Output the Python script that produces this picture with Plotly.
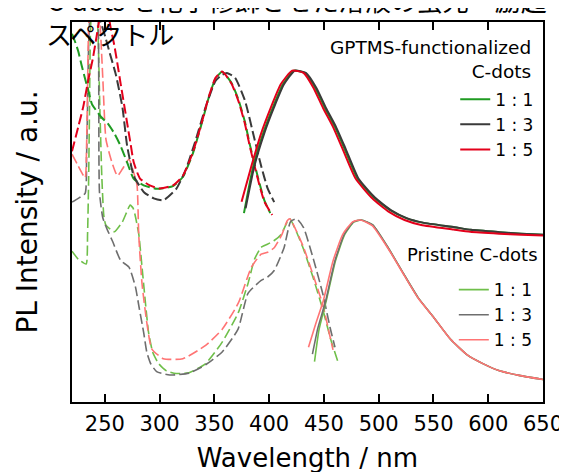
import plotly.graph_objects as go

# ---------------- data (wavelength in nm, intensity in a.u.) ----------------
ratios = ["1 : 1", "1 : 3", "1 : 5"]

# GPTMS-functionalized C-dots : emission (solid)
g_em_11_wl = [377.0, 385.5, 394.5, 403.5, 412.5, 422.5, 432.5, 442.0, 451.0, 460.0, 469.0, 480.5, 495.5, 510.5, 525.0, 540.0, 569.0, 584.0, 610, 630, 650]
g_em_11_y = [0.497, 0.621, 0.707, 0.776, 0.836, 0.872, 0.866, 0.827, 0.773, 0.724, 0.665, 0.588, 0.538, 0.505, 0.484, 0.472, 0.460, 0.453, 0.447, 0.443, 0.440]
g_em_13_wl = [378.5, 386.5, 395.5, 404.5, 413.5, 423.5, 433.5, 443.0, 452.0, 461.0, 470.0, 481.5, 496.5, 511.0, 525.5, 540.5, 569.5, 584.5, 610, 630, 650]
g_em_13_y = [0.510, 0.621, 0.707, 0.776, 0.836, 0.872, 0.866, 0.827, 0.773, 0.724, 0.665, 0.588, 0.538, 0.505, 0.484, 0.472, 0.460, 0.453, 0.447, 0.443, 0.440]
g_em_15_wl = [374.8, 383.8, 392.7, 401.7, 410.6, 421.0, 431.4, 440.4, 449.3, 458.3, 467.2, 478.9, 494.1, 509.0, 523.6, 538.8, 568.3, 583.5, 610, 630, 650]
g_em_15_y = [0.527, 0.621, 0.707, 0.776, 0.836, 0.872, 0.866, 0.827, 0.773, 0.724, 0.665, 0.588, 0.536, 0.501, 0.479, 0.466, 0.454, 0.448, 0.443, 0.440, 0.438]

# GPTMS-functionalized C-dots : excitation (dashed)
g_ex_11_wl = [220, 222.8, 225.7, 228.7, 231.7, 234.7, 238.2, 246.6, 252.6, 258.6, 264.5, 270.4, 276.4, 285.4, 297.3, 312.2, 321.2, 330.1, 339.1, 344.7, 351.0, 357.0, 359.9, 365.9, 371.8, 377.8, 382.3, 386.7, 391.2, 395.7, 401.0]
g_ex_11_y = [0.969, 0.948, 0.923, 0.887, 0.853, 0.822, 0.784, 0.750, 0.733, 0.707, 0.673, 0.630, 0.587, 0.570, 0.561, 0.568, 0.592, 0.652, 0.740, 0.800, 0.851, 0.869, 0.862, 0.838, 0.797, 0.738, 0.678, 0.626, 0.575, 0.530, 0.497]
g_ex_13_wl = [228, 238, 246.3, 250.5, 254.1, 260.0, 266.0, 270.4, 276.4, 285.7, 294.6, 303.5, 315.2, 324.1, 333.1, 342.0, 351.0, 356.5, 361.4, 368.9, 377.8, 386.7, 392.7, 398.6, 404.6]
g_ex_13_y = [1.06, 1.09, 1.00, 0.96, 0.922, 0.862, 0.776, 0.673, 0.595, 0.552, 0.536, 0.531, 0.561, 0.613, 0.691, 0.776, 0.845, 0.860, 0.866, 0.853, 0.794, 0.691, 0.621, 0.562, 0.526]
g_ex_15_wl = [220, 225.7, 230.2, 234.7, 239.1, 242.1, 245.1, 249.0, 252.6, 255.5, 258.6, 261.6, 264.5, 267.5, 270.4, 273.4, 276.4, 282.1, 291.0, 300.0, 312.2, 321.2, 330.1, 339.1, 344.7, 351.0, 357.0, 359.9, 365.9, 371.8, 377.8, 382.3, 386.7, 391.2, 395.7, 402.8]
g_ex_15_y = [0.660, 0.724, 0.776, 0.845, 0.905, 0.956, 1.008, 1.046, 1.026, 0.982, 0.939, 0.888, 0.836, 0.784, 0.733, 0.681, 0.630, 0.588, 0.570, 0.562, 0.570, 0.595, 0.655, 0.742, 0.802, 0.853, 0.870, 0.862, 0.836, 0.793, 0.733, 0.673, 0.621, 0.570, 0.527, 0.492]

# Pristine C-dots : emission (solid)
p_em_11_wl = [441.4, 445.5, 452.0, 460.5, 469.0, 477.5, 484.0, 494.5, 509.0, 523.6, 536.1, 550.4, 565.6, 580.8, 595.1, 610.3, 628.2, 650]
p_em_11_y = [0.106, 0.190, 0.265, 0.371, 0.441, 0.474, 0.479, 0.466, 0.404, 0.333, 0.274, 0.222, 0.165, 0.124, 0.101, 0.082, 0.070, 0.059]
p_em_13_wl = [439.5, 444.5, 451.5, 460.0, 468.5, 477.0, 484.0, 494.5, 509.0, 523.6, 536.1, 550.4, 565.6, 580.8, 595.1, 610.3, 628.2, 650]
p_em_13_y = [0.126, 0.195, 0.265, 0.371, 0.441, 0.474, 0.479, 0.466, 0.404, 0.333, 0.274, 0.222, 0.165, 0.124, 0.101, 0.082, 0.070, 0.059]
p_em_15_wl = [435.9, 442.3, 449.3, 458.3, 467.2, 476.2, 483.3, 494.1, 509.0, 523.6, 536.1, 550.4, 565.6, 580.8, 595.1, 610.3, 628.2, 650]
p_em_15_y = [0.144, 0.204, 0.265, 0.371, 0.441, 0.474, 0.479, 0.464, 0.402, 0.332, 0.273, 0.222, 0.165, 0.124, 0.101, 0.082, 0.070, 0.059]

# Pristine C-dots : excitation (dashed)
p_ex_11_wl = [220, 225.7, 232.9, 234.2, 235.1, 236.0, 236.9, 240.0, 243.6, 245.4, 247.2, 249.0, 250.8, 255.2, 258.8, 266.0, 270.4, 273.1, 275.8, 277.6, 281.0, 283.9, 286.8, 289.9, 293.7, 299.1, 306.2, 315.2, 326.8, 342.0, 357.0, 371.8, 380.7, 386.7, 392.7, 398.4, 404.6, 410.9, 416.2, 418.9, 425.2, 431.4, 440.4, 449.3, 456.5, 462.8]
p_ex_11_y = [0.397, 0.376, 0.363, 0.441, 0.570, 0.776, 0.982, 1.13, 0.982, 0.776, 0.595, 0.492, 0.466, 0.454, 0.448, 0.474, 0.503, 0.518, 0.510, 0.492, 0.441, 0.356, 0.268, 0.183, 0.131, 0.101, 0.082, 0.075, 0.077, 0.101, 0.157, 0.235, 0.312, 0.376, 0.407, 0.415, 0.425, 0.441, 0.472, 0.482, 0.446, 0.402, 0.325, 0.240, 0.162, 0.106]
p_ex_13_wl = [220, 225.7, 232.0, 233.3, 234.2, 235.1, 236.5, 240.0, 243.6, 244.4, 245.1, 248.1, 252.0, 257.0, 264.5, 272.0, 277.9, 281.5, 285.4, 288.3, 292.0, 297.3, 309.2, 326.8, 342.0, 356.9, 371.5, 380.7, 392.7, 398.6, 404.6, 413.6, 419.6, 425.2, 431.4, 440.4, 449.3, 455.6, 460.1]
p_ex_13_y = [0.526, 0.536, 0.549, 0.647, 0.776, 0.930, 1.03, 1.13, 1.06, 0.85, 0.552, 0.485, 0.455, 0.423, 0.372, 0.355, 0.303, 0.245, 0.183, 0.131, 0.100, 0.080, 0.071, 0.076, 0.098, 0.131, 0.191, 0.286, 0.320, 0.329, 0.346, 0.406, 0.475, 0.482, 0.459, 0.376, 0.281, 0.196, 0.144]
p_ex_15_wl = [220, 225.7, 232.0, 233.3, 234.2, 235.1, 238.2, 242.0, 245.4, 248.1, 251.0, 256.1, 261.5, 266.0, 272.0, 276.4, 279.4, 280.9, 283.9, 288.3, 292.8, 303.3, 321.2, 342.0, 357.0, 371.8, 383.8, 392.7, 398.6, 404.6, 411.7, 416.5, 418.9, 425.2, 431.4, 440.4, 449.3, 454.7, 458.3]
p_ex_15_y = [0.652, 0.621, 0.590, 0.673, 0.827, 0.982, 1.14, 1.10, 1.008, 0.853, 0.691, 0.634, 0.595, 0.613, 0.639, 0.603, 0.570, 0.441, 0.312, 0.209, 0.140, 0.114, 0.114, 0.149, 0.191, 0.260, 0.355, 0.389, 0.394, 0.406, 0.441, 0.477, 0.482, 0.448, 0.407, 0.332, 0.253, 0.183, 0.137]

x_ticks = [250, 300, 350, 400, 450, 500, 550, 600, 650]

# ---------------- styling ----------------
g_colors = ["#1f9b22", "#3a3a3a", "#e3001b"]
p_colors = ["#6fbf4a", "#6e6e6e", "#ff7474"]
FONT = "DejaVu Sans"
DASH = "10px,4px"

fig = go.Figure()

g_em = [(g_em_11_wl, g_em_11_y), (g_em_13_wl, g_em_13_y), (g_em_15_wl, g_em_15_y)]
g_ex = [(g_ex_11_wl, g_ex_11_y), (g_ex_13_wl, g_ex_13_y), (g_ex_15_wl, g_ex_15_y)]
p_em = [(p_em_11_wl, p_em_11_y), (p_em_13_wl, p_em_13_y), (p_em_15_wl, p_em_15_y)]
p_ex = [(p_ex_11_wl, p_ex_11_y), (p_ex_13_wl, p_ex_13_y), (p_ex_15_wl, p_ex_15_y)]

for i in range(3):
    fig.add_trace(go.Scatter(x=p_ex[i][0], y=p_ex[i][1], mode="lines",
                             line=dict(color=p_colors[i], width=1.6, dash=DASH, shape="spline", smoothing=0.5),
                             showlegend=False, hoverinfo="skip"))
for i in range(3):
    fig.add_trace(go.Scatter(x=p_em[i][0], y=p_em[i][1], mode="lines", name=ratios[i],
                             line=dict(color=p_colors[i], width=1.6, shape="spline", smoothing=0.5),
                             legend="legend2", showlegend=True))
for i in range(3):
    fig.add_trace(go.Scatter(x=g_ex[i][0], y=g_ex[i][1], mode="lines",
                             line=dict(color=g_colors[i], width=2, dash=DASH, shape="spline", smoothing=0.5),
                             showlegend=False, hoverinfo="skip"))
for i in range(3):
    fig.add_trace(go.Scatter(x=g_em[i][0], y=g_em[i][1], mode="lines", name=ratios[i],
                             line=dict(color=g_colors[i], width=2, shape="spline", smoothing=0.5),
                             legend="legend", showlegend=True))

fig.update_layout(
    width=567, height=472,
    margin=dict(l=64, r=23, t=13, b=71),
    paper_bgcolor="white", plot_bgcolor="white",
    font=dict(family=FONT, color="black"),
    legend=dict(x=0.992, xanchor="right", y=0.843, yanchor="top",
                bgcolor="rgba(0,0,0,0)", font=dict(size=17, family=FONT),
                tracegroupgap=0, itemclick=False),
    legend2=dict(x=0.989, xanchor="right", y=0.342, yanchor="top",
                 bgcolor="rgba(0,0,0,0)", font=dict(size=17, family=FONT),
                 tracegroupgap=0, itemclick=False),
    xaxis=dict(range=[220, 650], tickmode="array", tickvals=x_ticks,
               ticks="inside", ticklen=8, tickwidth=1.5, tickcolor="black",
               showline=True, linewidth=2, linecolor="black", mirror="ticks",
               showgrid=False, zeroline=False,
               tickfont=dict(size=21, family=FONT),
               ticklabelstandoff=2,
               title=dict(text="Wavelength / nm", font=dict(size=26, family=FONT), standoff=14)),
    yaxis=dict(range=[0, 1], showticklabels=False, ticks="",
               showline=True, linewidth=2, linecolor="black", mirror=True,
               showgrid=False, zeroline=False,
               title=dict(text="PL Intensity / a.u.", font=dict(size=28, family=FONT), standoff=24)),
    showlegend=True,
)

fig.add_annotation(text="GPTMS-functionalized<br>C-dots", xref="paper", yref="paper",
                   x=0.978, y=0.902, xanchor="right", yanchor="middle", align="right",
                   showarrow=False, font=dict(size=18.5, family=FONT))
fig.add_annotation(text="Pristine C-dots", xref="paper", yref="paper",
                   x=0.993, y=0.389, xanchor="right", yanchor="middle", align="right",
                   showarrow=False, font=dict(size=18, family=FONT))

fig.add_annotation(text="C-dots を化学修飾させた溶液の蛍光・励起", xref="paper", yref="paper",
                   x=-0.057, y=1.060, xanchor="left", yanchor="middle", align="left",
                   showarrow=False, font=dict(size=26, family="Noto Sans CJK JP"))
fig.add_annotation(text="スペクトル", xref="paper", yref="paper",
                   x=-0.059, y=0.969, xanchor="left", yanchor="middle", align="left",
                   showarrow=False, font=dict(size=26, family="Noto Sans CJK JP"))

fig.write_html("out.html")
